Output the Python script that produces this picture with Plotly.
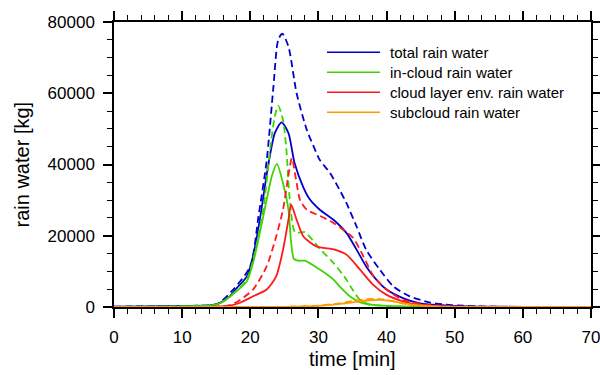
import plotly.graph_objects as go

# ---- data (time in min, rain water in kg) ----
total_solid_t = [0, 5, 10, 13, 14.6, 15.5, 17, 18, 19.5, 20.4, 21.4, 22.6, 23.6, 24.6, 25.6, 26.5, 27.8, 28.7, 30.2, 32.2, 34.1, 35.6, 37, 38.5, 40, 42.4, 44.9, 48.8, 55, 60, 70]
total_solid_v = [100, 200, 300, 350, 600, 1100, 3000, 5300, 8600, 14200, 24500, 39400, 48800, 51800, 48800, 40400, 33500, 30300, 27300, 24500, 20800, 16100, 11400, 7700, 4900, 2500, 1000, 400, 100, 50, 0]

total_dash_t = [0, 10, 14.6, 15.5, 17.5, 20, 21.2, 22.4, 23.4, 24.1, 24.7, 25.6, 26.8, 28.3, 29.2, 30.2, 31.7, 33.1, 34.1, 35.6, 37, 39, 41, 43.4, 46.3, 49.2, 55, 70]
total_dash_v = [100, 300, 600, 1200, 4900, 11400, 25400, 41000, 61900, 75000, 76700, 73100, 60000, 49700, 45500, 41300, 37600, 32900, 29200, 22600, 16100, 10500, 5800, 3000, 1300, 600, 100, 0]

incloud_solid_t = [0, 10, 14.6, 16, 18.5, 19.5, 20.4, 21.4, 22.4, 23.2, 23.9, 24.8, 25.6, 26, 26.4, 27, 28, 30.2, 32.2, 33.1, 34.6, 36.1, 38, 40, 45, 70]
incloud_solid_v = [50, 200, 500, 1500, 5300, 7200, 12300, 20800, 30100, 37000, 40200, 34800, 27300, 18000, 13500, 13000, 13000, 10500, 7700, 5800, 3000, 1300, 600, 300, 50, 0]

incloud_dash_t = [0, 10, 14.6, 16, 18.5, 19.5, 20.4, 21.9, 22.9, 23.6, 24.1, 24.8, 25.3, 25.8, 26.6, 28, 30.2, 32.2, 34.1, 35, 36.1, 37.5, 40, 45, 70]
incloud_dash_v = [50, 200, 500, 1500, 5500, 7800, 13000, 27300, 44100, 53500, 56500, 52500, 44100, 30100, 20900, 21000, 16300, 12400, 7700, 4900, 2000, 700, 300, 50, 0]

cloudenv_solid_t = [0, 10, 15, 17, 18.5, 20.4, 22.4, 23.8, 24.8, 25.6, 26.0, 26.8, 27.8, 29.7, 32.4, 34.1, 36.1, 38, 40, 42.4, 44.9, 48, 55, 70]
cloudenv_solid_v = [0, 50, 100, 400, 1200, 3000, 4900, 8600, 16000, 24500, 28700, 24500, 19800, 17000, 16100, 14700, 10500, 6300, 3400, 1600, 500, 200, 50, 0]

cloudenv_dash_t = [0, 10, 15, 17, 18.5, 20.4, 22.4, 23.8, 24.8, 25.6, 26.1, 26.8, 27.3, 28.3, 30.2, 32.2, 33.6, 35.1, 36.6, 38.1, 40, 42.4, 44.9, 48, 55, 70]
cloudenv_dash_v = [0, 50, 100, 500, 2000, 4900, 11400, 19800, 27300, 37000, 41800, 34800, 30000, 27300, 25600, 23600, 21700, 19400, 14200, 8600, 4900, 2000, 900, 300, 50, 0]

subcloud_solid_t = [0, 20, 25, 30, 33, 35, 37.5, 39, 41, 43.9, 47, 50, 70]
subcloud_solid_v = [0, 0, 50, 300, 800, 1300, 1900, 2000, 1600, 600, 200, 50, 0]

subcloud_dash_t = [0, 20, 25, 30, 33, 35, 37, 38.5, 40.5, 43, 46, 50, 70]
subcloud_dash_v = [0, 0, 50, 400, 1000, 1700, 2200, 2300, 1800, 800, 200, 50, 0]

series_names = ["total rain water", "in-cloud rain water", "cloud layer env. rain water", "subcloud rain water"]
series_colors = ["#0000cc", "#3fd400", "#ff1a1a", "#ff9900"]

x_ticks = [0, 10, 20, 30, 40, 50, 60, 70]
y_ticks = [0, 20000, 40000, 60000, 80000]

FONT = "Liberation Sans, Arial, Helvetica, sans-serif"

fig = go.Figure()
pairs = [
    ((total_solid_t, total_solid_v), (total_dash_t, total_dash_v)),
    ((incloud_solid_t, incloud_solid_v), (incloud_dash_t, incloud_dash_v)),
    ((cloudenv_solid_t, cloudenv_solid_v), (cloudenv_dash_t, cloudenv_dash_v)),
    ((subcloud_solid_t, subcloud_solid_v), (subcloud_dash_t, subcloud_dash_v)),
]
for name, color, (solid, dash) in zip(series_names, series_colors, pairs):
    fig.add_trace(go.Scatter(x=solid[0], y=solid[1], mode="lines", name=name,
                             line=dict(color=color, width=1.8, shape="spline", smoothing=0.7),
                             showlegend=False))
    fig.add_trace(go.Scatter(x=dash[0], y=dash[1], mode="lines", name=name + " (dashed)",
                             line=dict(color=color, width=1.8, dash="7px,4px", shape="spline", smoothing=0.7),
                             showlegend=False))

# manual legend (paper coordinates)
leg_y = [0.8937, 0.8235, 0.7533, 0.6832]
shapes = []
annotations = []
for name, color, yy in zip(series_names, series_colors, leg_y):
    shapes.append(dict(type="line", xref="paper", yref="paper", x0=0.4465, x1=0.5577, y0=yy, y1=yy,
                       line=dict(color=color, width=1.6)))
    annotations.append(dict(xref="paper", yref="paper", x=0.5744, y=yy, text=name, showarrow=False,
                            xanchor="left", yanchor="middle", font=dict(family=FONT, size=15, color="black")))

annotations.append(dict(xref="paper", yref="paper", x=0.5, y=-0.182, text="time [min]", showarrow=False,
                        xanchor="center", yanchor="middle", font=dict(family=FONT, size=20, color="black")))
annotations.append(dict(xref="paper", yref="paper", x=-0.1929, y=0.5, text="rain water [kg]", showarrow=False,
                        textangle=-90, xanchor="center", yanchor="middle", font=dict(family=FONT, size=20, color="black")))

axis_common = dict(showline=True, linecolor="black", linewidth=1.5, mirror="allticks",
                   ticks="outside", ticklen=9, tickwidth=1.5, tickcolor="black",
                   showgrid=False, zeroline=False, automargin=False, ticklabeloverflow="allow",
                   tickfont=dict(family=FONT, size=17, color="black"))

fig.update_layout(
    width=600, height=375,
    margin=dict(l=114, r=9, t=22, b=68, autoexpand=False),
    paper_bgcolor="white", plot_bgcolor="white",
    shapes=shapes, annotations=annotations,
    xaxis=dict(range=[0, 70], tickvals=x_ticks, ticktext=[str(v) for v in x_ticks], ticklabelstandoff=5,
               minor=dict(dtick=2, ticks="outside", ticklen=5, tickwidth=1, tickcolor="black", showgrid=False),
               **axis_common),
    yaxis=dict(range=[0, 80000], tickvals=y_ticks, ticktext=[str(v) for v in y_ticks], ticklabelstandoff=5,
               minor=dict(dtick=5000, ticks="outside", ticklen=5, tickwidth=1, tickcolor="black", showgrid=False),
               **axis_common),
)

fig.write_html("out.html")
